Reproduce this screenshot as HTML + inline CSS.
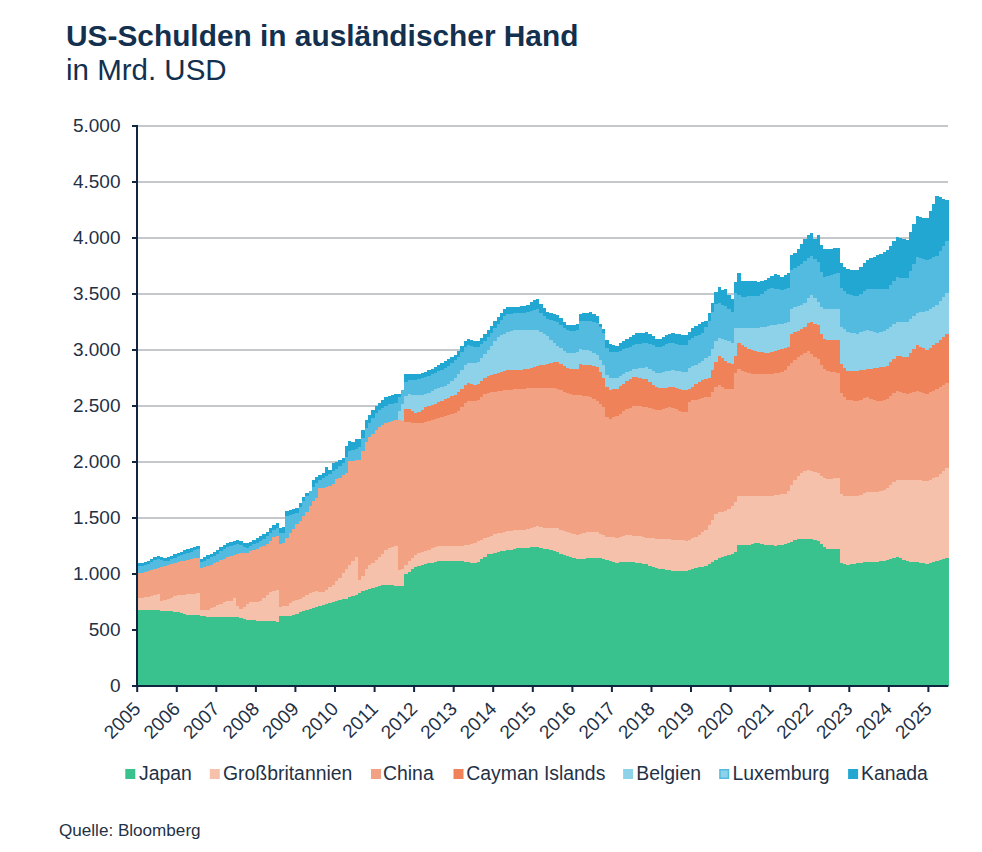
<!DOCTYPE html>
<html><head><meta charset="utf-8"><style>
html,body{margin:0;padding:0;background:#fff;}
body{width:982px;height:852px;overflow:hidden;position:relative;}
svg{position:absolute;left:0;top:0;}
text{font-family:"Liberation Sans",sans-serif;}
</style></head><body>
<svg width="982" height="852" viewBox="0 0 982 852">
<rect width="982" height="852" fill="#fff"/>
<text x="66" y="45.8" font-size="29.85" font-weight="bold" fill="#13304f">US-Schulden in ausländischer Hand</text>
<text x="66" y="80" font-size="29.5" fill="#13304f">in Mrd. USD</text>
<g><rect x="138" y="629.0" width="810" height="2" fill="#c4c7cb"/>
<rect x="138" y="573.0" width="810" height="2" fill="#c4c7cb"/>
<rect x="138" y="517.0" width="810" height="2" fill="#c4c7cb"/>
<rect x="138" y="461.0" width="810" height="2" fill="#c4c7cb"/>
<rect x="138" y="405.0" width="810" height="2" fill="#c4c7cb"/>
<rect x="138" y="349.0" width="810" height="2" fill="#c4c7cb"/>
<rect x="138" y="293.0" width="810" height="2" fill="#c4c7cb"/>
<rect x="138" y="237.0" width="810" height="2" fill="#c4c7cb"/>
<rect x="138" y="181.0" width="810" height="2" fill="#c4c7cb"/>
<rect x="138" y="125.0" width="810" height="2" fill="#c4c7cb"/></g>
<g shape-rendering="crispEdges">
<path fill="#22a7d3" d="M137.00,685.5L137.00,563.3L140.30,563.3L140.30,562.6L143.60,562.6L143.60,561.9L146.90,561.9L146.90,560.6L150.20,560.6L150.20,558.8L153.49,558.8L153.49,556.9L156.79,556.9L156.79,556.2L160.09,556.2L160.09,556.9L163.39,556.9L163.39,557.6L166.69,557.6L166.69,557.3L169.99,557.3L169.99,555.7L173.29,555.7L173.29,554.1L176.59,554.1L176.59,552.7L179.88,552.7L179.88,551.5L183.18,551.5L183.18,550.4L186.48,550.4L186.48,549.2L189.78,549.2L189.78,548.0L193.08,548.0L193.08,546.9L196.38,546.9L196.38,545.7L199.68,545.7L199.68,558.5L202.98,558.5L202.98,557.0L206.27,557.0L206.27,555.4L209.57,555.4L209.57,553.5L212.87,553.5L212.87,551.7L216.17,551.7L216.17,549.7L219.47,549.7L219.47,547.4L222.77,547.4L222.77,545.0L226.07,545.0L226.07,543.0L229.37,543.0L229.37,541.8L232.66,541.8L232.66,540.7L235.96,540.7L235.96,540.0L239.26,540.0L239.26,541.2L242.56,541.2L242.56,542.5L245.86,542.5L245.86,543.2L249.16,543.2L249.16,541.5L252.46,541.5L252.46,539.7L255.76,539.7L255.76,537.9L259.05,537.9L259.05,535.8L262.35,535.8L262.35,533.7L265.65,533.7L265.65,531.5L268.95,531.5L268.95,528.4L272.25,528.4L272.25,525.2L275.55,525.2L275.55,522.8L278.85,522.8L278.85,527.5L282.15,527.5L282.15,527.2L285.45,527.2L285.45,510.7L288.74,510.7L288.74,509.6L292.04,509.6L292.04,508.6L295.34,508.6L295.34,507.5L298.64,507.5L298.64,503.0L301.94,503.0L301.94,496.7L305.24,496.7L305.24,492.7L308.54,492.7L308.54,490.5L311.84,490.5L311.84,480.1L315.13,480.1L315.13,477.2L318.43,477.2L318.43,474.6L321.73,474.6L321.73,472.7L325.03,472.7L325.03,467.3L328.33,467.3L328.33,469.9L331.63,469.9L331.63,463.0L334.93,463.0L334.93,461.6L338.23,461.6L338.23,460.0L341.52,460.0L341.52,457.6L344.82,457.6L344.82,446.1L348.12,446.1L348.12,441.2L351.42,441.2L351.42,442.0L354.72,442.0L354.72,438.8L358.02,438.8L358.02,438.8L361.32,438.8L361.32,429.9L364.62,429.9L364.62,419.9L367.91,419.9L367.91,414.5L371.21,414.5L371.21,410.3L374.51,410.3L374.51,406.2L377.81,406.2L377.81,403.0L381.11,403.0L381.11,400.2L384.41,400.2L384.41,397.4L387.71,397.4L387.71,395.9L391.01,395.9L391.01,395.0L394.30,395.0L394.30,394.1L397.60,394.1L397.60,393.5L400.90,393.5L400.90,389.8L404.20,389.8L404.20,374.1L407.50,374.1L407.50,374.1L410.80,374.1L410.80,374.1L414.10,374.1L414.10,374.1L417.40,374.1L417.40,373.5L420.70,373.5L420.70,372.6L423.99,372.6L423.99,371.7L427.29,371.7L427.29,370.3L430.59,370.3L430.59,368.5L433.89,368.5L433.89,366.8L437.19,366.8L437.19,365.0L440.49,365.0L440.49,363.1L443.79,363.1L443.79,361.3L447.09,361.3L447.09,359.2L450.38,359.2L450.38,356.9L453.68,356.9L453.68,354.6L456.98,354.6L456.98,351.0L460.28,351.0L460.28,346.1L463.58,346.1L463.58,341.2L466.88,341.2L466.88,339.1L470.18,339.1L470.18,340.3L473.48,340.3L473.48,341.4L476.77,341.4L476.77,340.7L480.07,340.7L480.07,337.5L483.37,337.5L483.37,334.2L486.67,334.2L486.67,330.4L489.97,330.4L489.97,325.8L493.27,325.8L493.27,321.1L496.57,321.1L496.57,316.8L499.87,316.8L499.87,313.1L503.16,313.1L503.16,309.4L506.46,309.4L506.46,306.9L509.76,306.9L509.76,306.9L513.06,306.9L513.06,306.9L516.36,306.9L516.36,306.8L519.66,306.8L519.66,306.3L522.96,306.3L522.96,305.8L526.26,305.8L526.26,304.8L529.55,304.8L529.55,302.4L532.85,302.4L532.85,299.9L536.15,299.9L536.15,299.2L539.45,299.2L539.45,303.7L542.75,303.7L542.75,308.2L546.05,308.2L546.05,312.0L549.35,312.0L549.35,312.9L552.65,312.9L552.65,313.8L555.95,313.8L555.95,315.2L559.24,315.2L559.24,318.4L562.54,318.4L562.54,321.6L565.84,321.6L565.84,324.5L569.14,324.5L569.14,324.9L572.44,324.9L572.44,325.4L575.74,325.4L575.74,324.3L579.04,324.3L579.04,313.9L582.34,313.9L582.34,313.2L585.63,313.2L585.63,312.5L588.93,312.5L588.93,312.3L592.23,312.3L592.23,314.2L595.53,314.2L595.53,316.4L598.83,316.4L598.83,323.6L602.13,323.6L602.13,328.7L605.43,328.7L605.43,339.5L608.73,339.5L608.73,343.5L612.02,343.5L612.02,344.7L615.32,344.7L615.32,345.8L618.62,345.8L618.62,343.3L621.92,343.3L621.92,340.8L625.22,340.8L625.22,338.6L628.52,338.6L628.52,336.5L631.82,336.5L631.82,334.5L635.12,334.5L635.12,333.4L638.41,333.4L638.41,332.9L641.71,332.9L641.71,332.5L645.01,332.5L645.01,332.0L648.31,332.0L648.31,334.1L651.61,334.1L651.61,336.4L654.91,336.4L654.91,338.7L658.21,338.7L658.21,338.7L661.51,338.7L661.51,337.0L664.80,337.0L664.80,335.2L668.10,335.2L668.10,333.5L671.40,333.5L671.40,333.1L674.70,333.1L674.70,333.6L678.00,333.6L678.00,334.1L681.30,334.1L681.30,334.6L684.60,334.6L684.60,334.8L687.90,334.8L687.90,331.5L691.20,331.5L691.20,328.2L694.49,328.2L694.49,325.7L697.79,325.7L697.79,324.0L701.09,324.0L701.09,322.3L704.39,322.3L704.39,320.8L707.69,320.8L707.69,312.6L710.99,312.6L710.99,303.2L714.29,303.2L714.29,291.8L717.59,291.8L717.59,287.0L720.88,287.0L720.88,289.7L724.18,289.7L724.18,289.1L727.48,289.1L727.48,295.1L730.78,295.1L730.78,299.2L734.08,299.2L734.08,281.5L737.38,281.5L737.38,272.8L740.68,272.8L740.68,280.7L743.98,280.7L743.98,281.1L747.27,281.1L747.27,280.8L750.57,280.8L750.57,281.0L753.87,281.0L753.87,281.4L757.17,281.4L757.17,281.8L760.47,281.8L760.47,281.3L763.77,281.3L763.77,280.2L767.07,280.2L767.07,278.0L770.37,278.0L770.37,276.0L773.66,276.0L773.66,274.4L776.96,274.4L776.96,275.0L780.26,275.0L780.26,276.6L783.56,276.6L783.56,275.1L786.86,275.1L786.86,273.4L790.16,273.4L790.16,255.3L793.46,255.3L793.46,252.6L796.76,252.6L796.76,249.1L800.05,249.1L800.05,243.6L803.35,243.6L803.35,238.8L806.65,238.8L806.65,235.2L809.95,235.2L809.95,232.9L813.25,232.9L813.25,238.5L816.55,238.5L816.55,235.2L819.85,235.2L819.85,245.0L823.15,245.0L823.15,249.3L826.45,249.3L826.45,248.9L829.74,248.9L829.74,248.5L833.04,248.5L833.04,248.0L836.34,248.0L836.34,247.5L839.64,247.5L839.64,263.3L842.94,263.3L842.94,266.8L846.24,266.8L846.24,269.4L849.54,269.4L849.54,269.9L852.84,269.9L852.84,270.4L856.13,270.4L856.13,270.0L859.43,270.0L859.43,266.5L862.73,266.5L862.73,263.0L866.03,263.0L866.03,259.9L869.33,259.9L869.33,258.4L872.63,258.4L872.63,256.9L875.93,256.9L875.93,255.3L879.23,255.3L879.23,253.8L882.52,253.8L882.52,252.3L885.82,252.3L885.82,250.4L889.12,250.4L889.12,245.8L892.42,245.8L892.42,241.3L895.72,241.3L895.72,237.4L899.02,237.4L899.02,238.4L902.32,238.4L902.32,239.4L905.62,239.4L905.62,239.7L908.91,239.7L908.91,231.6L912.21,231.6L912.21,223.6L915.51,223.6L915.51,215.9L918.81,215.9L918.81,216.7L922.11,216.7L922.11,217.5L925.41,217.5L925.41,218.1L928.71,218.1L928.71,210.8L932.01,210.8L932.01,203.5L935.30,203.5L935.30,196.2L938.60,196.2L938.60,197.3L941.90,197.3L941.90,198.6L945.20,198.6L945.20,199.8L948.50,199.8L948.50,685.5Z"/>
<path fill="#52bbdf" d="M137.00,685.5L137.00,566.4L140.30,566.4L140.30,565.7L143.60,565.7L143.60,565.0L146.90,565.0L146.90,563.7L150.20,563.7L150.20,561.9L153.49,561.9L153.49,560.1L156.79,560.1L156.79,559.4L160.09,559.4L160.09,560.1L163.39,560.1L163.39,560.9L166.69,560.9L166.69,560.7L169.99,560.7L169.99,559.1L173.29,559.1L173.29,557.5L176.59,557.5L176.59,556.1L179.88,556.1L179.88,555.0L183.18,555.0L183.18,553.8L186.48,553.8L186.48,552.7L189.78,552.7L189.78,551.6L193.08,551.6L193.08,550.4L196.38,550.4L196.38,549.3L199.68,549.3L199.68,562.2L202.98,562.2L202.98,560.7L206.27,560.7L206.27,559.1L209.57,559.1L209.57,557.3L212.87,557.3L212.87,555.5L216.17,555.5L216.17,553.5L219.47,553.5L219.47,551.2L222.77,551.2L222.77,548.9L226.07,548.9L226.07,546.9L229.37,546.9L229.37,545.8L232.66,545.8L232.66,544.7L235.96,544.7L235.96,544.0L239.26,544.0L239.26,545.4L242.56,545.4L242.56,546.7L245.86,546.7L245.86,547.5L249.16,547.5L249.16,545.9L252.46,545.9L252.46,544.2L255.76,544.2L255.76,542.6L259.05,542.6L259.05,540.5L262.35,540.5L262.35,538.5L265.65,538.5L265.65,536.4L268.95,536.4L268.95,533.4L272.25,533.4L272.25,530.4L275.55,530.4L275.55,528.0L278.85,528.0L278.85,532.8L282.15,532.8L282.15,532.6L285.45,532.6L285.45,516.2L288.74,516.2L288.74,515.2L292.04,515.2L292.04,514.3L295.34,514.3L295.34,513.3L298.64,513.3L298.64,506.5L301.94,506.5L301.94,500.7L305.24,500.7L305.24,495.9L308.54,495.9L308.54,491.3L311.84,491.3L311.84,486.9L315.13,486.9L315.13,483.2L318.43,483.2L318.43,480.2L321.73,480.2L321.73,478.0L325.03,478.0L325.03,475.8L328.33,475.8L328.33,473.6L331.63,473.6L331.63,471.3L334.93,471.3L334.93,469.1L338.23,469.1L338.23,466.1L341.52,466.1L341.52,463.1L344.82,463.1L344.82,456.5L348.12,456.5L348.12,450.8L351.42,450.8L351.42,449.9L354.72,449.9L354.72,449.1L358.02,449.1L358.02,447.2L361.32,447.2L361.32,438.2L364.62,438.2L364.62,428.4L367.91,428.4L367.91,422.6L371.21,422.6L371.21,417.9L374.51,417.9L374.51,413.3L377.81,413.3L377.81,410.4L381.11,410.4L381.11,408.1L384.41,408.1L384.41,405.8L387.71,405.8L387.71,404.4L391.01,404.4L391.01,403.5L394.30,403.5L394.30,402.6L397.60,402.6L397.60,397.2L400.90,397.2L400.90,389.8L404.20,389.8L404.20,382.3L407.50,382.3L407.50,379.7L410.80,379.7L410.80,379.7L414.10,379.7L414.10,379.7L417.40,379.7L417.40,379.1L420.70,379.1L420.70,378.2L423.99,378.2L423.99,377.3L427.29,377.3L427.29,376.0L430.59,376.0L430.59,374.4L433.89,374.4L433.89,372.9L437.19,372.9L437.19,371.3L440.49,371.3L440.49,369.8L443.79,369.8L443.79,368.2L447.09,368.2L447.09,366.0L450.38,366.0L450.38,363.2L453.68,363.2L453.68,360.4L456.98,360.4L456.98,356.7L460.28,356.7L460.28,352.0L463.58,352.0L463.58,347.4L466.88,347.4L466.88,345.3L470.18,345.3L470.18,346.3L473.48,346.3L473.48,347.2L476.77,347.2L476.77,346.5L480.07,346.5L480.07,343.7L483.37,343.7L483.37,341.0L486.67,341.0L486.67,337.4L489.97,337.4L489.97,332.8L493.27,332.8L493.27,328.1L496.57,328.1L496.57,323.8L499.87,323.8L499.87,320.1L503.16,320.1L503.16,316.4L506.46,316.4L506.46,313.8L509.76,313.8L509.76,313.6L513.06,313.6L513.06,313.4L516.36,313.4L516.36,313.1L519.66,313.1L519.66,312.9L522.96,312.9L522.96,312.7L526.26,312.7L526.26,312.1L529.55,312.1L529.55,310.9L532.85,310.9L532.85,309.6L536.15,309.6L536.15,309.4L539.45,309.4L539.45,312.8L542.75,312.8L542.75,316.1L546.05,316.1L546.05,319.0L549.35,319.0L549.35,319.9L552.65,319.9L552.65,320.8L555.95,320.8L555.95,322.1L559.24,322.1L559.24,324.9L562.54,324.9L562.54,327.7L565.84,327.7L565.84,330.2L569.14,330.2L569.14,330.6L572.44,330.6L572.44,331.1L575.74,331.1L575.74,330.2L579.04,330.2L579.04,321.4L582.34,321.4L582.34,321.2L585.63,321.2L585.63,321.1L588.93,321.1L588.93,321.2L592.23,321.2L592.23,322.1L595.53,322.1L595.53,323.1L598.83,323.1L598.83,326.9L602.13,326.9L602.13,333.2L605.43,333.2L605.43,347.7L608.73,347.7L608.73,351.9L612.02,351.9L612.02,351.9L615.32,351.9L615.32,351.9L618.62,351.9L618.62,350.7L621.92,350.7L621.92,349.4L625.22,349.4L625.22,348.0L628.52,348.0L628.52,346.5L631.82,346.5L631.82,345.0L635.12,345.0L635.12,344.1L638.41,344.1L638.41,343.6L641.71,343.6L641.71,343.2L645.01,343.2L645.01,342.7L648.31,342.7L648.31,343.9L651.61,343.9L651.61,345.3L654.91,345.3L654.91,346.7L658.21,346.7L658.21,346.6L661.51,346.6L661.51,345.5L664.80,345.5L664.80,344.3L668.10,344.3L668.10,343.1L671.40,343.1L671.40,343.1L674.70,343.1L674.70,343.8L678.00,343.8L678.00,344.5L681.30,344.5L681.30,345.2L684.60,345.2L684.60,345.4L687.90,345.4L687.90,339.5L691.20,339.5L691.20,337.6L694.49,337.6L694.49,336.4L697.79,336.4L697.79,335.1L701.09,335.1L701.09,333.1L704.39,333.1L704.39,327.2L707.69,327.2L707.69,321.2L710.99,321.2L710.99,311.9L714.29,311.9L714.29,304.3L717.59,304.3L717.59,302.9L720.88,302.9L720.88,304.5L724.18,304.5L724.18,306.2L727.48,306.2L727.48,308.8L730.78,308.8L730.78,311.8L734.08,311.8L734.08,293.0L737.38,293.0L737.38,295.2L740.68,295.2L740.68,297.3L743.98,297.3L743.98,296.8L747.27,296.8L747.27,296.1L750.57,296.1L750.57,295.9L753.87,295.9L753.87,295.9L757.17,295.9L757.17,295.9L760.47,295.9L760.47,294.1L763.77,294.1L763.77,291.4L767.07,291.4L767.07,288.7L770.37,288.7L770.37,287.9L773.66,287.9L773.66,288.5L776.96,288.5L776.96,289.0L780.26,289.0L780.26,289.6L783.56,289.6L783.56,289.1L786.86,289.1L786.86,288.3L790.16,288.3L790.16,270.2L793.46,270.2L793.46,268.0L796.76,268.0L796.76,265.9L800.05,265.9L800.05,263.7L803.35,263.7L803.35,261.3L806.65,261.3L806.65,258.4L809.95,258.4L809.95,256.2L813.25,256.2L813.25,259.1L816.55,259.1L816.55,262.0L819.85,262.0L819.85,272.4L823.15,272.4L823.15,276.5L826.45,276.5L826.45,275.7L829.74,275.7L829.74,274.9L833.04,274.9L833.04,273.8L836.34,273.8L836.34,272.8L839.64,272.8L839.64,288.2L842.94,288.2L842.94,291.4L846.24,291.4L846.24,294.0L849.54,294.0L849.54,295.0L852.84,295.0L852.84,296.0L856.13,296.0L856.13,296.2L859.43,296.2L859.43,293.7L862.73,293.7L862.73,291.1L866.03,291.1L866.03,289.1L869.33,289.1L869.33,289.1L872.63,289.1L872.63,289.1L875.93,289.1L875.93,289.1L879.23,289.1L879.23,289.1L882.52,289.1L882.52,289.1L885.82,289.1L885.82,288.5L889.12,288.5L889.12,284.5L892.42,284.5L892.42,280.5L895.72,280.5L895.72,277.0L899.02,277.0L899.02,277.5L902.32,277.5L902.32,278.0L905.62,278.0L905.62,277.9L908.91,277.9L908.91,270.9L912.21,270.9L912.21,263.8L915.51,263.8L915.51,257.2L918.81,257.2L918.81,258.2L922.11,258.2L922.11,259.2L925.41,259.2L925.41,260.2L928.71,260.2L928.71,258.7L932.01,258.7L932.01,257.1L935.30,257.1L935.30,255.6L938.60,255.6L938.60,250.6L941.90,250.6L941.90,245.6L945.20,245.6L945.20,240.5L948.50,240.5L948.50,685.5Z"/>
<path fill="#8ed2e9" d="M137.00,685.5L137.00,573.2L140.30,573.2L140.30,572.5L143.60,572.5L143.60,571.8L146.90,571.8L146.90,571.0L150.20,571.0L150.20,570.0L153.49,570.0L153.49,569.1L156.79,569.1L156.79,568.2L160.09,568.2L160.09,567.3L163.39,567.3L163.39,566.3L166.69,566.3L166.69,565.3L169.99,565.3L169.99,564.2L173.29,564.2L173.29,563.0L176.59,563.0L176.59,562.0L179.88,562.0L179.88,561.3L183.18,561.3L183.18,560.6L186.48,560.6L186.48,559.9L189.78,559.9L189.78,559.1L193.08,559.1L193.08,558.4L196.38,558.4L196.38,557.7L199.68,557.7L199.68,568.2L202.98,568.2L202.98,567.2L206.27,567.2L206.27,566.1L209.57,566.1L209.57,564.7L212.87,564.7L212.87,563.3L216.17,563.3L216.17,561.9L219.47,561.9L219.47,560.2L222.77,560.2L222.77,558.6L226.07,558.6L226.07,557.0L229.37,557.0L229.37,555.8L232.66,555.8L232.66,554.5L235.96,554.5L235.96,553.5L239.26,553.5L239.26,553.3L242.56,553.3L242.56,553.1L245.86,553.1L245.86,552.8L249.16,552.8L249.16,551.4L252.46,551.4L252.46,549.9L255.76,549.9L255.76,548.5L259.05,548.5L259.05,547.1L262.35,547.1L262.35,545.8L265.65,545.8L265.65,544.2L268.95,544.2L268.95,540.7L272.25,540.7L272.25,537.3L275.55,537.3L275.55,536.2L278.85,536.2L278.85,544.3L282.15,544.3L282.15,543.3L285.45,543.3L285.45,537.9L288.74,537.9L288.74,533.2L292.04,533.2L292.04,528.6L295.34,528.6L295.34,524.0L298.64,524.0L298.64,520.5L301.94,520.5L301.94,516.1L305.24,516.1L305.24,511.5L308.54,511.5L308.54,506.4L311.84,506.4L311.84,501.0L315.13,501.0L315.13,497.9L318.43,497.9L318.43,488.4L321.73,488.4L321.73,487.5L325.03,487.5L325.03,486.5L328.33,486.5L328.33,485.6L331.63,485.6L331.63,483.8L334.93,483.8L334.93,479.2L338.23,479.2L338.23,477.6L341.52,477.6L341.52,475.3L344.82,475.3L344.82,473.0L348.12,473.0L348.12,461.2L351.42,461.2L351.42,460.8L354.72,460.8L354.72,460.4L358.02,460.4L358.02,459.5L361.32,459.5L361.32,451.3L364.62,451.3L364.62,442.3L367.91,442.3L367.91,437.4L371.21,437.4L371.21,433.7L374.51,433.7L374.51,429.9L377.81,429.9L377.81,427.4L381.11,427.4L381.11,425.4L384.41,425.4L384.41,423.3L387.71,423.3L387.71,421.9L391.01,421.9L391.01,420.7L394.30,420.7L394.30,419.6L397.60,419.6L397.60,411.2L400.90,411.2L400.90,403.8L404.20,403.8L404.20,396.4L407.50,396.4L407.50,394.1L410.80,394.1L410.80,394.6L414.10,394.6L414.10,395.0L417.40,395.0L417.40,394.9L420.70,394.9L420.70,394.5L423.99,394.5L423.99,394.0L427.29,394.0L427.29,392.8L430.59,392.8L430.59,391.0L433.89,391.0L433.89,389.2L437.19,389.2L437.19,387.9L440.49,387.9L440.49,387.1L443.79,387.1L443.79,386.2L447.09,386.2L447.09,384.1L450.38,384.1L450.38,380.8L453.68,380.8L453.68,377.6L456.98,377.6L456.98,373.8L460.28,373.8L460.28,369.6L463.58,369.6L463.58,365.4L466.88,365.4L466.88,363.2L470.18,363.2L470.18,363.2L473.48,363.2L473.48,363.2L476.77,363.2L476.77,361.6L480.07,361.6L480.07,357.9L483.37,357.9L483.37,354.2L486.67,354.2L486.67,350.1L489.97,350.1L489.97,345.5L493.27,345.5L493.27,340.8L496.57,340.8L496.57,337.2L499.87,337.2L499.87,335.4L503.16,335.4L503.16,333.5L506.46,333.5L506.46,332.0L509.76,332.0L509.76,331.0L513.06,331.0L513.06,330.1L516.36,330.1L516.36,329.5L519.66,329.5L519.66,329.7L522.96,329.7L522.96,329.9L526.26,329.9L526.26,330.1L529.55,330.1L529.55,329.9L532.85,329.9L532.85,329.8L536.15,329.8L536.15,330.2L539.45,330.2L539.45,332.2L542.75,332.2L542.75,334.1L546.05,334.1L546.05,336.4L549.35,336.4L549.35,339.7L552.65,339.7L552.65,342.9L555.95,342.9L555.95,346.0L559.24,346.0L559.24,348.3L562.54,348.3L562.54,350.6L565.84,350.6L565.84,352.6L569.14,352.6L569.14,352.6L572.44,352.6L572.44,352.6L575.74,352.6L575.74,352.1L579.04,352.1L579.04,349.0L582.34,349.0L582.34,349.7L585.63,349.7L585.63,350.4L588.93,350.4L588.93,351.3L592.23,351.3L592.23,353.2L595.53,353.2L595.53,355.2L598.83,355.2L598.83,359.8L602.13,359.8L602.13,365.2L605.43,365.2L605.43,375.1L608.73,375.1L608.73,377.9L612.02,377.9L612.02,377.9L615.32,377.9L615.32,377.9L618.62,377.9L618.62,376.0L621.92,376.0L621.92,374.1L625.22,374.1L625.22,372.4L628.52,372.4L628.52,370.9L631.82,370.9L631.82,369.4L635.12,369.4L635.12,368.5L638.41,368.5L638.41,368.1L641.71,368.1L641.71,367.7L645.01,367.7L645.01,367.2L648.31,367.2L648.31,368.8L651.61,368.8L651.61,370.7L654.91,370.7L654.91,372.5L658.21,372.5L658.21,372.9L661.51,372.9L661.51,372.1L664.80,372.1L664.80,371.3L668.10,371.3L668.10,370.5L671.40,370.5L671.40,370.4L674.70,370.4L674.70,370.8L678.00,370.8L678.00,371.1L681.30,371.1L681.30,371.5L684.60,371.5L684.60,371.5L687.90,371.5L687.90,368.2L691.20,368.2L691.20,366.3L694.49,366.3L694.49,364.6L697.79,364.6L697.79,362.9L701.09,362.9L701.09,361.1L704.39,361.1L704.39,358.4L707.69,358.4L707.69,355.8L710.99,355.8L710.99,348.7L714.29,348.7L714.29,340.8L717.59,340.8L717.59,337.7L720.88,337.7L720.88,338.8L724.18,338.8L724.18,339.9L727.48,339.9L727.48,341.3L730.78,341.3L730.78,342.7L734.08,342.7L734.08,328.0L737.38,328.0L737.38,328.0L740.68,328.0L740.68,328.0L743.98,328.0L743.98,328.0L747.27,328.0L747.27,328.0L750.57,328.0L750.57,328.0L753.87,328.0L753.87,327.9L757.17,327.9L757.17,327.8L760.47,327.8L760.47,327.3L763.77,327.3L763.77,326.6L767.07,326.6L767.07,325.9L770.37,325.9L770.37,325.3L773.66,325.3L773.66,324.7L776.96,324.7L776.96,324.2L780.26,324.2L780.26,323.6L783.56,323.6L783.56,323.0L786.86,323.0L786.86,322.3L790.16,322.3L790.16,308.5L793.46,308.5L793.46,307.4L796.76,307.4L796.76,306.3L800.05,306.3L800.05,305.2L803.35,305.2L803.35,302.8L806.65,302.8L806.65,298.1L809.95,298.1L809.95,294.5L813.25,294.5L813.25,298.2L816.55,298.2L816.55,301.9L819.85,301.9L819.85,306.7L823.15,306.7L823.15,308.7L826.45,308.7L826.45,308.8L829.74,308.8L829.74,308.9L833.04,308.9L833.04,308.9L836.34,308.9L836.34,309.0L839.64,309.0L839.64,327.0L842.94,327.0L842.94,329.4L846.24,329.4L846.24,331.5L849.54,331.5L849.54,332.5L852.84,332.5L852.84,333.4L856.13,333.4L856.13,333.8L859.43,333.8L859.43,332.4L862.73,332.4L862.73,330.9L866.03,330.9L866.03,329.9L869.33,329.9L869.33,330.9L872.63,330.9L872.63,331.9L875.93,331.9L875.93,332.5L879.23,332.5L879.23,331.5L882.52,331.5L882.52,330.5L885.82,330.5L885.82,329.3L889.12,329.3L889.12,326.8L892.42,326.8L892.42,324.3L895.72,324.3L895.72,322.0L899.02,322.0L899.02,322.0L902.32,322.0L902.32,322.0L905.62,322.0L905.62,321.8L908.91,321.8L908.91,318.8L912.21,318.8L912.21,315.8L915.51,315.8L915.51,312.9L918.81,312.9L918.81,312.4L922.11,312.4L922.11,311.9L925.41,311.9L925.41,311.4L928.71,311.4L928.71,309.4L932.01,309.4L932.01,307.3L935.30,307.3L935.30,305.3L938.60,305.3L938.60,301.3L941.90,301.3L941.90,297.2L945.20,297.2L945.20,293.2L948.50,293.2L948.50,685.5Z"/>
<path fill="#f0825a" d="M137.00,685.5L137.00,573.2L140.30,573.2L140.30,572.5L143.60,572.5L143.60,571.8L146.90,571.8L146.90,571.0L150.20,571.0L150.20,570.0L153.49,570.0L153.49,569.1L156.79,569.1L156.79,568.2L160.09,568.2L160.09,567.3L163.39,567.3L163.39,566.3L166.69,566.3L166.69,565.3L169.99,565.3L169.99,564.2L173.29,564.2L173.29,563.0L176.59,563.0L176.59,562.0L179.88,562.0L179.88,561.3L183.18,561.3L183.18,560.6L186.48,560.6L186.48,559.9L189.78,559.9L189.78,559.1L193.08,559.1L193.08,558.4L196.38,558.4L196.38,557.7L199.68,557.7L199.68,568.2L202.98,568.2L202.98,567.2L206.27,567.2L206.27,566.1L209.57,566.1L209.57,564.7L212.87,564.7L212.87,563.3L216.17,563.3L216.17,561.9L219.47,561.9L219.47,560.2L222.77,560.2L222.77,558.6L226.07,558.6L226.07,557.0L229.37,557.0L229.37,555.8L232.66,555.8L232.66,554.5L235.96,554.5L235.96,553.5L239.26,553.5L239.26,553.3L242.56,553.3L242.56,553.1L245.86,553.1L245.86,552.8L249.16,552.8L249.16,551.4L252.46,551.4L252.46,549.9L255.76,549.9L255.76,548.5L259.05,548.5L259.05,547.1L262.35,547.1L262.35,545.8L265.65,545.8L265.65,544.2L268.95,544.2L268.95,540.7L272.25,540.7L272.25,537.3L275.55,537.3L275.55,536.2L278.85,536.2L278.85,544.3L282.15,544.3L282.15,543.3L285.45,543.3L285.45,537.9L288.74,537.9L288.74,533.2L292.04,533.2L292.04,528.6L295.34,528.6L295.34,524.0L298.64,524.0L298.64,520.5L301.94,520.5L301.94,516.1L305.24,516.1L305.24,511.5L308.54,511.5L308.54,506.4L311.84,506.4L311.84,501.0L315.13,501.0L315.13,497.9L318.43,497.9L318.43,488.4L321.73,488.4L321.73,487.5L325.03,487.5L325.03,486.5L328.33,486.5L328.33,485.6L331.63,485.6L331.63,483.8L334.93,483.8L334.93,479.2L338.23,479.2L338.23,477.6L341.52,477.6L341.52,475.3L344.82,475.3L344.82,473.0L348.12,473.0L348.12,461.2L351.42,461.2L351.42,460.8L354.72,460.8L354.72,460.4L358.02,460.4L358.02,459.5L361.32,459.5L361.32,451.3L364.62,451.3L364.62,442.3L367.91,442.3L367.91,437.4L371.21,437.4L371.21,433.7L374.51,433.7L374.51,429.9L377.81,429.9L377.81,427.4L381.11,427.4L381.11,425.4L384.41,425.4L384.41,423.3L387.71,423.3L387.71,421.9L391.01,421.9L391.01,420.7L394.30,420.7L394.30,419.6L397.60,419.6L397.60,419.8L400.90,419.8L400.90,420.8L404.20,420.8L404.20,408.7L407.50,408.7L407.50,409.1L410.80,409.1L410.80,411.0L414.10,411.0L414.10,412.8L417.40,412.8L417.40,412.1L420.70,412.1L420.70,409.8L423.99,409.8L423.99,407.4L427.29,407.4L427.29,405.9L430.59,405.9L430.59,404.8L433.89,404.8L433.89,403.7L437.19,403.7L437.19,402.3L440.49,402.3L440.49,400.8L443.79,400.8L443.79,399.2L447.09,399.2L447.09,397.8L450.38,397.8L450.38,396.3L453.68,396.3L453.68,394.9L456.98,394.9L456.98,392.4L460.28,392.4L460.28,388.7L463.58,388.7L463.58,385.0L466.88,385.0L466.88,383.4L470.18,383.4L470.18,384.4L473.48,384.4L473.48,385.3L476.77,385.3L476.77,384.4L480.07,384.4L480.07,381.1L483.37,381.1L483.37,377.9L486.67,377.9L486.67,375.5L489.97,375.5L489.97,374.6L493.27,374.6L493.27,373.7L496.57,373.7L496.57,372.8L499.87,372.8L499.87,371.8L503.16,371.8L503.16,370.9L506.46,370.9L506.46,370.3L509.76,370.3L509.76,370.3L513.06,370.3L513.06,370.3L516.36,370.3L516.36,370.2L519.66,370.2L519.66,369.7L522.96,369.7L522.96,369.2L526.26,369.2L526.26,368.7L529.55,368.7L529.55,367.8L532.85,367.8L532.85,367.0L536.15,367.0L536.15,366.2L539.45,366.2L539.45,365.4L542.75,365.4L542.75,364.6L546.05,364.6L546.05,363.7L549.35,363.7L549.35,362.8L552.65,362.8L552.65,361.9L555.95,361.9L555.95,361.5L559.24,361.5L559.24,363.8L562.54,363.8L562.54,366.1L565.84,366.1L565.84,368.2L569.14,368.2L569.14,368.6L572.44,368.6L572.44,369.1L575.74,369.1L575.74,368.8L579.04,368.8L579.04,364.3L582.34,364.3L582.34,364.6L585.63,364.6L585.63,364.8L588.93,364.8L588.93,365.2L592.23,365.2L592.23,366.2L595.53,366.2L595.53,367.4L598.83,367.4L598.83,371.8L602.13,371.8L602.13,377.5L605.43,377.5L605.43,387.3L608.73,387.3L608.73,389.7L612.02,389.7L612.02,389.1L615.32,389.1L615.32,388.5L618.62,388.5L618.62,386.0L621.92,386.0L621.92,383.5L625.22,383.5L625.22,381.3L628.52,381.3L628.52,379.2L631.82,379.2L631.82,377.2L635.12,377.2L635.12,376.8L638.41,376.8L638.41,377.6L641.71,377.6L641.71,378.5L645.01,378.5L645.01,379.3L648.31,379.3L648.31,381.8L651.61,381.8L651.61,384.6L654.91,384.6L654.91,387.3L658.21,387.3L658.21,388.3L661.51,388.3L661.51,387.9L664.80,387.9L664.80,387.5L668.10,387.5L668.10,387.1L671.40,387.1L671.40,387.4L674.70,387.4L674.70,388.1L678.00,388.1L678.00,388.8L681.30,388.8L681.30,389.5L684.60,389.5L684.60,390.0L687.90,390.0L687.90,389.1L691.20,389.1L691.20,386.9L694.49,386.9L694.49,384.4L697.79,384.4L697.79,382.0L701.09,382.0L701.09,379.8L704.39,379.8L704.39,379.1L707.69,379.1L707.69,378.4L710.99,378.4L710.99,369.9L714.29,369.9L714.29,361.5L717.59,361.5L717.59,355.6L720.88,355.6L720.88,358.2L724.18,358.2L724.18,360.9L727.48,360.9L727.48,362.6L730.78,362.6L730.78,364.1L734.08,364.1L734.08,355.6L737.38,355.6L737.38,343.3L740.68,343.3L740.68,345.1L743.98,345.1L743.98,346.9L747.27,346.9L747.27,348.7L750.57,348.7L750.57,349.9L753.87,349.9L753.87,350.7L757.17,350.7L757.17,351.5L760.47,351.5L760.47,352.1L763.77,352.1L763.77,352.5L767.07,352.5L767.07,352.9L770.37,352.9L770.37,352.4L773.66,352.4L773.66,351.3L776.96,351.3L776.96,350.3L780.26,350.3L780.26,349.2L783.56,349.2L783.56,348.2L786.86,348.2L786.86,347.4L790.16,347.4L790.16,333.7L793.46,333.7L793.46,332.1L796.76,332.1L796.76,330.5L800.05,330.5L800.05,328.8L803.35,328.8L803.35,326.6L806.65,326.6L806.65,323.2L809.95,323.2L809.95,322.2L813.25,322.2L813.25,323.8L816.55,323.8L816.55,325.4L819.85,325.4L819.85,334.4L823.15,334.4L823.15,338.8L826.45,338.8L826.45,339.6L829.74,339.6L829.74,340.4L833.04,340.4L833.04,340.4L836.34,340.4L836.34,340.4L839.64,340.4L839.64,363.6L842.94,363.6L842.94,367.8L846.24,367.8L846.24,370.8L849.54,370.8L849.54,370.8L852.84,370.8L852.84,370.8L856.13,370.8L856.13,370.7L859.43,370.7L859.43,370.2L862.73,370.2L862.73,369.7L866.03,369.7L866.03,369.2L869.33,369.2L869.33,368.7L872.63,368.7L872.63,368.2L875.93,368.2L875.93,367.7L879.23,367.7L879.23,367.2L882.52,367.2L882.52,366.7L885.82,366.7L885.82,365.8L889.12,365.8L889.12,362.3L892.42,362.3L892.42,358.7L895.72,358.7L895.72,355.7L899.02,355.7L899.02,356.2L902.32,356.2L902.32,356.6L905.62,356.6L905.62,356.8L908.91,356.8L908.91,352.8L912.21,352.8L912.21,348.7L915.51,348.7L915.51,345.0L918.81,345.0L918.81,346.5L922.11,346.5L922.11,348.0L925.41,348.0L925.41,349.5L928.71,349.5L928.71,347.5L932.01,347.5L932.01,345.4L935.30,345.4L935.30,343.4L938.60,343.4L938.60,340.4L941.90,340.4L941.90,337.4L945.20,337.4L945.20,334.3L948.50,334.3L948.50,685.5Z"/>
<path fill="#f2a283" d="M137.00,685.5L137.00,573.2L140.30,573.2L140.30,572.5L143.60,572.5L143.60,571.8L146.90,571.8L146.90,571.0L150.20,571.0L150.20,570.0L153.49,570.0L153.49,569.1L156.79,569.1L156.79,568.2L160.09,568.2L160.09,567.3L163.39,567.3L163.39,566.3L166.69,566.3L166.69,565.3L169.99,565.3L169.99,564.2L173.29,564.2L173.29,563.0L176.59,563.0L176.59,562.0L179.88,562.0L179.88,561.3L183.18,561.3L183.18,560.6L186.48,560.6L186.48,559.9L189.78,559.9L189.78,559.1L193.08,559.1L193.08,558.4L196.38,558.4L196.38,557.7L199.68,557.7L199.68,568.2L202.98,568.2L202.98,567.2L206.27,567.2L206.27,566.1L209.57,566.1L209.57,564.7L212.87,564.7L212.87,563.3L216.17,563.3L216.17,561.9L219.47,561.9L219.47,560.2L222.77,560.2L222.77,558.6L226.07,558.6L226.07,557.0L229.37,557.0L229.37,555.8L232.66,555.8L232.66,554.5L235.96,554.5L235.96,553.5L239.26,553.5L239.26,553.3L242.56,553.3L242.56,553.1L245.86,553.1L245.86,552.8L249.16,552.8L249.16,551.4L252.46,551.4L252.46,549.9L255.76,549.9L255.76,548.5L259.05,548.5L259.05,547.1L262.35,547.1L262.35,545.8L265.65,545.8L265.65,544.2L268.95,544.2L268.95,540.7L272.25,540.7L272.25,537.3L275.55,537.3L275.55,536.2L278.85,536.2L278.85,544.3L282.15,544.3L282.15,543.3L285.45,543.3L285.45,537.9L288.74,537.9L288.74,533.2L292.04,533.2L292.04,528.6L295.34,528.6L295.34,524.0L298.64,524.0L298.64,520.5L301.94,520.5L301.94,516.1L305.24,516.1L305.24,511.5L308.54,511.5L308.54,506.4L311.84,506.4L311.84,501.0L315.13,501.0L315.13,497.9L318.43,497.9L318.43,488.4L321.73,488.4L321.73,487.5L325.03,487.5L325.03,486.5L328.33,486.5L328.33,485.6L331.63,485.6L331.63,483.8L334.93,483.8L334.93,479.2L338.23,479.2L338.23,477.6L341.52,477.6L341.52,475.3L344.82,475.3L344.82,473.0L348.12,473.0L348.12,461.2L351.42,461.2L351.42,460.8L354.72,460.8L354.72,460.4L358.02,460.4L358.02,459.5L361.32,459.5L361.32,451.3L364.62,451.3L364.62,442.3L367.91,442.3L367.91,437.4L371.21,437.4L371.21,433.7L374.51,433.7L374.51,429.9L377.81,429.9L377.81,427.4L381.11,427.4L381.11,425.4L384.41,425.4L384.41,423.3L387.71,423.3L387.71,421.9L391.01,421.9L391.01,420.7L394.30,420.7L394.30,419.6L397.60,419.6L397.60,419.8L400.90,419.8L400.90,420.8L404.20,420.8L404.20,421.7L407.50,421.7L407.50,422.3L410.80,422.3L410.80,422.8L414.10,422.8L414.10,423.2L417.40,423.2L417.40,423.1L420.70,423.1L420.70,422.7L423.99,422.7L423.99,422.2L427.29,422.2L427.29,421.3L430.59,421.3L430.59,420.2L433.89,420.2L433.89,419.1L437.19,419.1L437.19,418.0L440.49,418.0L440.49,416.9L443.79,416.9L443.79,415.7L447.09,415.7L447.09,414.7L450.38,414.7L450.38,413.8L453.68,413.8L453.68,412.9L456.98,412.9L456.98,410.6L460.28,410.6L460.28,406.8L463.58,406.8L463.58,403.1L466.88,403.1L466.88,401.1L470.18,401.1L470.18,401.1L473.48,401.1L473.48,401.1L476.77,401.1L476.77,399.9L480.07,399.9L480.07,397.1L483.37,397.1L483.37,394.4L486.67,394.4L486.67,392.5L489.97,392.5L489.97,392.1L493.27,392.1L493.27,391.6L496.57,391.6L496.57,391.1L499.87,391.1L499.87,390.7L503.16,390.7L503.16,390.2L506.46,390.2L506.46,389.8L509.76,389.8L509.76,389.6L513.06,389.6L513.06,389.4L516.36,389.4L516.36,389.1L519.66,389.1L519.66,388.9L522.96,388.9L522.96,388.7L526.26,388.7L526.26,388.4L529.55,388.4L529.55,388.2L532.85,388.2L532.85,387.9L536.15,387.9L536.15,387.7L539.45,387.7L539.45,387.9L542.75,387.9L542.75,388.1L546.05,388.1L546.05,388.3L549.35,388.3L549.35,388.3L552.65,388.3L552.65,388.3L555.95,388.3L555.95,388.6L559.24,388.6L559.24,390.2L562.54,390.2L562.54,391.8L565.84,391.8L565.84,393.3L569.14,393.3L569.14,394.0L572.44,394.0L572.44,394.8L575.74,394.8L575.74,395.3L579.04,395.3L579.04,395.0L582.34,395.0L582.34,395.7L585.63,395.7L585.63,396.4L588.93,396.4L588.93,397.3L592.23,397.3L592.23,399.2L595.53,399.2L595.53,401.1L598.83,401.1L598.83,403.5L602.13,403.5L602.13,406.9L605.43,406.9L605.43,416.5L608.73,416.5L608.73,418.5L612.02,418.5L612.02,417.4L615.32,417.4L615.32,416.3L618.62,416.3L618.62,413.8L621.92,413.8L621.92,411.3L625.22,411.3L625.22,409.3L628.52,409.3L628.52,407.8L631.82,407.8L631.82,406.3L635.12,406.3L635.12,405.8L638.41,405.8L638.41,406.2L641.71,406.2L641.71,406.6L645.01,406.6L645.01,407.1L648.31,407.1L648.31,407.9L651.61,407.9L651.61,408.9L654.91,408.9L654.91,409.8L658.21,409.8L658.21,409.8L661.51,409.8L661.51,409.0L664.80,409.0L664.80,408.2L668.10,408.2L668.10,407.4L671.40,407.4L671.40,407.9L674.70,407.9L674.70,409.3L678.00,409.3L678.00,410.6L681.30,410.6L681.30,412.0L684.60,412.0L684.60,412.4L687.90,412.4L687.90,402.4L691.20,402.4L691.20,400.4L694.49,400.4L694.49,399.6L697.79,399.6L697.79,398.9L701.09,398.9L701.09,398.2L704.39,398.2L704.39,397.4L707.69,397.4L707.69,396.7L710.99,396.7L710.99,392.1L714.29,392.1L714.29,386.9L717.59,386.9L717.59,385.3L720.88,385.3L720.88,386.9L724.18,386.9L724.18,388.6L727.48,388.6L727.48,389.0L730.78,389.0L730.78,389.0L734.08,389.0L734.08,373.0L737.38,373.0L737.38,369.3L740.68,369.3L740.68,370.6L743.98,370.6L743.98,372.0L747.27,372.0L747.27,373.4L750.57,373.4L750.57,373.8L753.87,373.8L753.87,373.7L757.17,373.7L757.17,373.7L760.47,373.7L760.47,373.8L763.77,373.8L763.77,374.0L767.07,374.0L767.07,374.1L770.37,374.1L770.37,373.9L773.66,373.9L773.66,373.3L776.96,373.3L776.96,372.8L780.26,372.8L780.26,372.2L783.56,372.2L783.56,369.6L786.86,369.6L786.86,366.3L790.16,366.3L790.16,363.0L793.46,363.0L793.46,359.7L796.76,359.7L796.76,356.8L800.05,356.8L800.05,354.8L803.35,354.8L803.35,352.8L806.65,352.8L806.65,351.2L809.95,351.2L809.95,353.9L813.25,353.9L813.25,356.5L816.55,356.5L816.55,359.1L819.85,359.1L819.85,365.3L823.15,365.3L823.15,368.9L826.45,368.9L826.45,370.5L829.74,370.5L829.74,372.1L833.04,372.1L833.04,372.3L836.34,372.3L836.34,372.5L839.64,372.5L839.64,393.4L842.94,393.4L842.94,397.1L846.24,397.1L846.24,399.9L849.54,399.9L849.54,400.4L852.84,400.4L852.84,400.9L856.13,400.9L856.13,400.9L859.43,400.9L859.43,399.5L862.73,399.5L862.73,398.0L866.03,398.0L866.03,397.1L869.33,397.1L869.33,398.6L872.63,398.6L872.63,400.1L875.93,400.1L875.93,401.2L879.23,401.2L879.23,400.7L882.52,400.7L882.52,400.2L885.82,400.2L885.82,399.4L889.12,399.4L889.12,396.4L892.42,396.4L892.42,393.4L895.72,393.4L895.72,390.8L899.02,390.8L899.02,391.8L902.32,391.8L902.32,392.8L905.62,392.8L905.62,393.6L908.91,393.6L908.91,392.6L912.21,392.6L912.21,391.6L915.51,391.6L915.51,390.7L918.81,390.7L918.81,391.7L922.11,391.7L922.11,392.7L925.41,392.7L925.41,393.7L928.71,393.7L928.71,392.2L932.01,392.2L932.01,390.6L935.30,390.6L935.30,389.1L938.60,389.1L938.60,387.1L941.90,387.1L941.90,385.1L945.20,385.1L945.20,383.1L948.50,383.1L948.50,685.5Z"/>
<path fill="#f6c1ab" d="M137.00,685.5L137.00,598.0L140.30,598.0L140.30,597.5L143.60,597.5L143.60,597.0L146.90,597.0L146.90,596.5L150.20,596.5L150.20,595.8L153.49,595.8L153.49,595.0L156.79,595.0L156.79,594.3L160.09,594.3L160.09,601.2L163.39,601.2L163.39,600.2L166.69,600.2L166.69,599.0L169.99,599.0L169.99,597.7L173.29,597.7L173.29,596.3L176.59,596.3L176.59,595.3L179.88,595.3L179.88,595.0L183.18,595.0L183.18,594.8L186.48,594.8L186.48,594.4L189.78,594.4L189.78,594.0L193.08,594.0L193.08,593.6L196.38,593.6L196.38,593.1L199.68,593.1L199.68,610.0L202.98,610.0L202.98,610.1L206.27,610.1L206.27,609.7L209.57,609.7L209.57,608.3L212.87,608.3L212.87,606.9L216.17,606.9L216.17,605.4L219.47,605.4L219.47,603.6L222.77,603.6L222.77,601.7L226.07,601.7L226.07,600.8L229.37,600.8L229.37,601.2L232.66,601.2L232.66,597.9L235.96,597.9L235.96,606.4L239.26,606.4L239.26,608.5L242.56,608.5L242.56,606.8L245.86,606.8L245.86,604.2L249.16,604.2L249.16,602.2L252.46,602.2L252.46,601.8L255.76,601.8L255.76,601.5L259.05,601.5L259.05,600.9L262.35,600.9L262.35,598.0L265.65,598.0L265.65,595.0L268.95,595.0L268.95,592.4L272.25,592.4L272.25,591.4L275.55,591.4L275.55,590.4L278.85,590.4L278.85,606.5L282.15,606.5L282.15,606.2L285.45,606.2L285.45,605.9L288.74,605.9L288.74,602.9L292.04,602.9L292.04,601.2L295.34,601.2L295.34,599.9L298.64,599.9L298.64,598.6L301.94,598.6L301.94,597.1L305.24,597.1L305.24,595.1L308.54,595.1L308.54,593.4L311.84,593.4L311.84,592.2L315.13,592.2L315.13,591.4L318.43,591.4L318.43,592.1L321.73,592.1L321.73,592.3L325.03,592.3L325.03,589.9L328.33,589.9L328.33,587.3L331.63,587.3L331.63,584.6L334.93,584.6L334.93,581.4L338.23,581.4L338.23,578.0L341.52,578.0L341.52,573.4L344.82,573.4L344.82,568.7L348.12,568.7L348.12,564.8L351.42,564.8L351.42,560.9L354.72,560.9L354.72,557.0L358.02,557.0L358.02,580.3L361.32,580.3L361.32,576.0L364.62,576.0L364.62,569.1L367.91,569.1L367.91,565.4L371.21,565.4L371.21,562.7L374.51,562.7L374.51,559.9L377.81,559.9L377.81,556.8L381.11,556.8L381.11,553.5L384.41,553.5L384.41,550.2L387.71,550.2L387.71,548.3L391.01,548.3L391.01,546.9L394.30,546.9L394.30,545.5L397.60,545.5L397.60,570.3L400.90,570.3L400.90,569.3L404.20,569.3L404.20,564.9L407.50,564.9L407.50,561.3L410.80,561.3L410.80,558.0L414.10,558.0L414.10,554.7L417.40,554.7L417.40,552.9L420.70,552.9L420.70,552.0L423.99,552.0L423.99,551.1L427.29,551.1L427.29,549.8L430.59,549.8L430.59,548.2L433.89,548.2L433.89,546.7L437.19,546.7L437.19,545.9L440.49,545.9L440.49,545.8L443.79,545.8L443.79,545.7L447.09,545.7L447.09,545.7L450.38,545.7L450.38,546.0L453.68,546.0L453.68,546.2L456.98,546.2L456.98,546.1L460.28,546.1L460.28,545.6L463.58,545.6L463.58,545.1L466.88,545.1L466.88,544.5L470.18,544.5L470.18,543.5L473.48,543.5L473.48,542.6L476.77,542.6L476.77,541.4L480.07,541.4L480.07,539.8L483.37,539.8L483.37,538.2L486.67,538.2L486.67,536.7L489.97,536.7L489.97,535.6L493.27,535.6L493.27,534.4L496.57,534.4L496.57,533.4L499.87,533.4L499.87,532.7L503.16,532.7L503.16,532.0L506.46,532.0L506.46,531.3L509.76,531.3L509.76,530.9L513.06,530.9L513.06,530.4L516.36,530.4L516.36,530.0L519.66,530.0L519.66,529.8L522.96,529.8L522.96,529.6L526.26,529.6L526.26,529.1L529.55,529.1L529.55,528.1L532.85,528.1L532.85,527.1L536.15,527.1L536.15,526.4L539.45,526.4L539.45,527.0L542.75,527.0L542.75,527.6L546.05,527.6L546.05,528.0L549.35,528.0L549.35,528.0L552.65,528.0L552.65,528.0L555.95,528.0L555.95,528.3L559.24,528.3L559.24,529.7L562.54,529.7L562.54,531.1L565.84,531.1L565.84,532.4L569.14,532.4L569.14,533.4L572.44,533.4L572.44,534.3L575.74,534.3L575.74,535.0L579.04,535.0L579.04,534.1L582.34,534.1L582.34,533.1L585.63,533.1L585.63,532.3L588.93,532.3L588.93,532.3L592.23,532.3L592.23,532.3L595.53,532.3L595.53,532.4L598.83,532.4L598.83,533.8L602.13,533.8L602.13,535.1L605.43,535.1L605.43,536.5L608.73,536.5L608.73,537.0L612.02,537.0L612.02,537.4L615.32,537.4L615.32,537.9L618.62,537.9L618.62,537.0L621.92,537.0L621.92,536.1L625.22,536.1L625.22,535.1L628.52,535.1L628.52,535.3L631.82,535.3L631.82,535.5L635.12,535.5L635.12,535.7L638.41,535.7L638.41,536.3L641.71,536.3L641.71,537.0L645.01,537.0L645.01,537.6L648.31,537.6L648.31,537.9L651.61,537.9L651.61,538.2L654.91,538.2L654.91,538.5L658.21,538.5L658.21,538.7L661.51,538.7L661.51,538.9L664.80,538.9L664.80,539.2L668.10,539.2L668.10,539.4L671.40,539.4L671.40,539.6L674.70,539.6L674.70,539.9L678.00,539.9L678.00,540.1L681.30,540.1L681.30,540.3L684.60,540.3L684.60,540.5L687.90,540.5L687.90,539.5L691.20,539.5L691.20,538.1L694.49,538.1L694.49,536.7L697.79,536.7L697.79,534.6L701.09,534.6L701.09,532.3L704.39,532.3L704.39,530.0L707.69,530.0L707.69,525.3L710.99,525.3L710.99,519.8L714.29,519.8L714.29,514.2L717.59,514.2L717.59,512.1L720.88,512.1L720.88,511.6L724.18,511.6L724.18,511.2L727.48,511.2L727.48,508.9L730.78,508.9L730.78,505.6L734.08,505.6L734.08,502.4L737.38,502.4L737.38,496.3L740.68,496.3L740.68,496.3L743.98,496.3L743.98,496.3L747.27,496.3L747.27,496.3L750.57,496.3L750.57,496.3L753.87,496.3L753.87,496.3L757.17,496.3L757.17,496.3L760.47,496.3L760.47,496.3L763.77,496.3L763.77,496.3L767.07,496.3L767.07,496.1L770.37,496.1L770.37,495.6L773.66,495.6L773.66,495.1L776.96,495.1L776.96,494.7L780.26,494.7L780.26,494.2L783.56,494.2L783.56,493.8L786.86,493.8L786.86,490.9L790.16,490.9L790.16,485.4L793.46,485.4L793.46,479.8L796.76,479.8L796.76,475.6L800.05,475.6L800.05,473.3L803.35,473.3L803.35,471.0L806.65,471.0L806.65,470.0L809.95,470.0L809.95,470.9L813.25,470.9L813.25,471.8L816.55,471.8L816.55,473.2L819.85,473.2L819.85,475.5L823.15,475.5L823.15,477.9L826.45,477.9L826.45,479.2L829.74,479.2L829.74,478.8L833.04,478.8L833.04,478.3L836.34,478.3L836.34,478.0L839.64,478.0L839.64,494.4L842.94,494.4L842.94,495.6L846.24,495.6L846.24,496.4L849.54,496.4L849.54,496.4L852.84,496.4L852.84,496.4L856.13,496.4L856.13,496.0L859.43,496.0L859.43,494.6L862.73,494.6L862.73,493.1L866.03,493.1L866.03,491.9L869.33,491.9L869.33,492.2L872.63,492.2L872.63,492.4L875.93,492.4L875.93,492.4L879.23,492.4L879.23,491.1L882.52,491.1L882.52,489.9L885.82,489.9L885.82,488.4L889.12,488.4L889.12,485.4L892.42,485.4L892.42,482.4L895.72,482.4L895.72,479.7L899.02,479.7L899.02,480.0L902.32,480.0L902.32,480.2L905.62,480.2L905.62,480.4L908.91,480.4L908.91,480.2L912.21,480.2L912.21,479.9L915.51,479.9L915.51,479.7L918.81,479.7L918.81,480.2L922.11,480.2L922.11,480.7L925.41,480.7L925.41,481.2L928.71,481.2L928.71,479.7L932.01,479.7L932.01,478.1L935.30,478.1L935.30,476.6L938.60,476.6L938.60,473.6L941.90,473.6L941.90,470.6L945.20,470.6L945.20,467.6L948.50,467.6L948.50,685.5Z"/>
<path fill="#3ac28e" d="M137.00,685.5L137.00,609.5L140.30,609.5L140.30,609.6L143.60,609.6L143.60,609.8L146.90,609.8L146.90,609.9L150.20,609.9L150.20,610.0L153.49,610.0L153.49,610.1L156.79,610.1L156.79,610.3L160.09,610.3L160.09,610.7L163.39,610.7L163.39,611.1L166.69,611.1L166.69,611.3L169.99,611.3L169.99,611.4L173.29,611.4L173.29,611.5L176.59,611.5L176.59,611.9L179.88,611.9L179.88,612.9L183.18,612.9L183.18,613.9L186.48,613.9L186.48,614.7L189.78,614.7L189.78,614.8L193.08,614.8L193.08,615.0L196.38,615.0L196.38,615.2L199.68,615.2L199.68,615.7L202.98,615.7L202.98,616.2L206.27,616.2L206.27,616.5L209.57,616.5L209.57,616.7L212.87,616.7L212.87,616.8L216.17,616.8L216.17,616.9L219.47,616.9L219.47,617.0L222.77,617.0L222.77,617.1L226.07,617.1L226.07,617.2L229.37,617.2L229.37,617.2L232.66,617.2L232.66,617.2L235.96,617.2L235.96,617.3L239.26,617.3L239.26,618.1L242.56,618.1L242.56,618.9L245.86,618.9L245.86,619.6L249.16,619.6L249.16,619.9L252.46,619.9L252.46,620.3L255.76,620.3L255.76,620.6L259.05,620.6L259.05,620.7L262.35,620.7L262.35,620.9L265.65,620.9L265.65,621.0L268.95,621.0L268.95,621.2L272.25,621.2L272.25,621.4L275.55,621.4L275.55,621.6L278.85,621.6L278.85,616.0L282.15,616.0L282.15,615.9L285.45,615.9L285.45,615.9L288.74,615.9L288.74,615.8L292.04,615.8L292.04,614.8L295.34,614.8L295.34,613.5L298.64,613.5L298.64,612.3L301.94,612.3L301.94,611.2L305.24,611.2L305.24,610.0L308.54,610.0L308.54,609.0L311.84,609.0L311.84,607.9L315.13,607.9L315.13,606.9L318.43,606.9L318.43,605.8L321.73,605.8L321.73,604.8L325.03,604.8L325.03,603.8L328.33,603.8L328.33,602.7L331.63,602.7L331.63,601.7L334.93,601.7L334.93,600.6L338.23,600.6L338.23,600.0L341.52,600.0L341.52,599.3L344.82,599.3L344.82,598.7L348.12,598.7L348.12,597.4L351.42,597.4L351.42,596.1L354.72,596.1L354.72,594.7L358.02,594.7L358.02,593.1L361.32,593.1L361.32,591.4L364.62,591.4L364.62,589.8L367.91,589.8L367.91,588.7L371.21,588.7L371.21,587.8L374.51,587.8L374.51,586.8L377.81,586.8L377.81,586.1L381.11,586.1L381.11,585.4L384.41,585.4L384.41,584.7L387.71,584.7L387.71,584.8L391.01,584.8L391.01,585.3L394.30,585.3L394.30,585.8L397.60,585.8L397.60,585.9L400.90,585.9L400.90,586.0L404.20,586.0L404.20,573.7L407.50,573.7L407.50,571.7L410.80,571.7L410.80,569.4L414.10,569.4L414.10,567.1L417.40,567.1L417.40,565.6L420.70,565.6L420.70,564.7L423.99,564.7L423.99,563.8L427.29,563.8L427.29,563.1L430.59,563.1L430.59,562.7L433.89,562.7L433.89,562.2L437.19,562.2L437.19,561.0L440.49,561.0L440.49,560.7L443.79,560.7L443.79,560.5L447.09,560.5L447.09,560.5L450.38,560.5L450.38,560.8L453.68,560.8L453.68,561.0L456.98,561.0L456.98,561.2L460.28,561.2L460.28,561.4L463.58,561.4L463.58,561.7L466.88,561.7L466.88,562.0L470.18,562.0L470.18,562.5L473.48,562.5L473.48,562.9L476.77,562.9L476.77,562.0L480.07,562.0L480.07,559.2L483.37,559.2L483.37,556.5L486.67,556.5L486.67,554.4L489.97,554.4L489.97,553.5L493.27,553.5L493.27,552.6L496.57,552.6L496.57,551.8L499.87,551.8L499.87,551.4L503.16,551.4L503.16,550.9L506.46,550.9L506.46,550.4L509.76,550.4L509.76,549.7L513.06,549.7L513.06,549.0L516.36,549.0L516.36,548.4L519.66,548.4L519.66,548.2L522.96,548.2L522.96,547.9L526.26,547.9L526.26,547.6L529.55,547.6L529.55,547.4L532.85,547.4L532.85,547.2L536.15,547.2L536.15,547.2L539.45,547.2L539.45,547.9L542.75,547.9L542.75,548.6L546.05,548.6L546.05,549.4L549.35,549.4L549.35,550.3L552.65,550.3L552.65,551.2L555.95,551.2L555.95,552.2L559.24,552.2L559.24,553.6L562.54,553.6L562.54,555.0L565.84,555.0L565.84,556.3L569.14,556.3L569.14,557.3L572.44,557.3L572.44,558.2L575.74,558.2L575.74,559.0L579.04,559.0L579.04,558.7L582.34,558.7L582.34,558.5L585.63,558.5L585.63,558.3L588.93,558.3L588.93,558.0L592.23,558.0L592.23,557.8L595.53,557.8L595.53,557.6L598.83,557.6L598.83,558.3L602.13,558.3L602.13,559.0L605.43,559.0L605.43,559.7L608.73,559.7L608.73,560.6L612.02,560.6L612.02,561.6L615.32,561.6L615.32,562.5L618.62,562.5L618.62,562.3L621.92,562.3L621.92,562.0L625.22,562.0L625.22,561.8L628.52,561.8L628.52,562.0L631.82,562.0L631.82,562.3L635.12,562.3L635.12,562.5L638.41,562.5L638.41,563.1L641.71,563.1L641.71,563.8L645.01,563.8L645.01,564.4L648.31,564.4L648.31,565.5L651.61,565.5L651.61,566.7L654.91,566.7L654.91,567.8L658.21,567.8L658.21,568.6L661.51,568.6L661.51,569.3L664.80,569.3L664.80,570.0L668.10,570.0L668.10,570.3L671.40,570.3L671.40,570.5L674.70,570.5L674.70,570.8L678.00,570.8L678.00,571.0L681.30,571.0L681.30,571.2L684.60,571.2L684.60,571.4L687.90,571.4L687.90,570.4L691.20,570.4L691.20,569.0L694.49,569.0L694.49,567.7L697.79,567.7L697.79,567.0L701.09,567.0L701.09,566.5L704.39,566.5L704.39,566.0L707.69,566.0L707.69,564.3L710.99,564.3L710.99,562.0L714.29,562.0L714.29,559.6L717.59,559.6L717.59,558.3L720.88,558.3L720.88,557.4L724.18,557.4L724.18,556.4L727.48,556.4L727.48,555.2L730.78,555.2L730.78,553.8L734.08,553.8L734.08,552.3L737.38,552.3L737.38,544.5L740.68,544.5L740.68,544.9L743.98,544.9L743.98,545.4L747.27,545.4L747.27,545.1L750.57,545.1L750.57,544.1L753.87,544.1L753.87,543.2L757.17,543.2L757.17,543.2L760.47,543.2L760.47,543.9L763.77,543.9L763.77,544.6L767.07,544.6L767.07,545.0L770.37,545.0L770.37,545.3L773.66,545.3L773.66,545.5L776.96,545.5L776.96,545.3L780.26,545.3L780.26,544.6L783.56,544.6L783.56,543.9L786.86,543.9L786.86,542.9L790.16,542.9L790.16,541.5L793.46,541.5L793.46,540.1L796.76,540.1L796.76,539.2L800.05,539.2L800.05,539.0L803.35,539.0L803.35,538.7L806.65,538.7L806.65,538.8L809.95,538.8L809.95,539.2L813.25,539.2L813.25,539.7L816.55,539.7L816.55,541.0L819.85,541.0L819.85,543.8L823.15,543.8L823.15,546.6L826.45,546.6L826.45,548.5L829.74,548.5L829.74,548.5L833.04,548.5L833.04,548.5L836.34,548.5L836.34,548.7L839.64,548.7L839.64,563.4L842.94,563.4L842.94,564.4L846.24,564.4L846.24,565.0L849.54,565.0L849.54,564.4L852.84,564.4L852.84,563.9L856.13,563.9L856.13,563.4L859.43,563.4L859.43,562.9L862.73,562.9L862.73,562.4L866.03,562.4L866.03,562.0L869.33,562.0L869.33,562.0L872.63,562.0L872.63,562.0L875.93,562.0L875.93,561.9L879.23,561.9L879.23,561.4L882.52,561.4L882.52,560.9L885.82,560.9L885.82,560.3L889.12,560.3L889.12,559.1L892.42,559.1L892.42,557.8L895.72,557.8L895.72,556.9L899.02,556.9L899.02,558.4L902.32,558.4L902.32,559.8L905.62,559.8L905.62,561.2L908.91,561.2L908.91,561.5L912.21,561.5L912.21,561.7L915.51,561.7L915.51,562.0L918.81,562.0L918.81,562.5L922.11,562.5L922.11,563.0L925.41,563.0L925.41,563.5L928.71,563.5L928.71,562.5L932.01,562.5L932.01,561.5L935.30,561.5L935.30,560.5L938.60,560.5L938.60,559.8L941.90,559.8L941.90,559.0L945.20,559.0L945.20,558.2L948.50,558.2L948.50,685.5Z"/>
</g>
<rect x="136" y="125" width="2" height="562" fill="#10253f"/>
<rect x="136" y="685" width="812.3" height="2" fill="#10253f"/>
<g font-size="19" fill="#1f3146">
<text x="120.5" y="692.0" text-anchor="end">0</text>
<rect x="132" y="685.0" width="5" height="2" fill="#10253f"/>
<text x="120.5" y="636.0" text-anchor="end">500</text>
<rect x="132" y="629.0" width="5" height="2" fill="#10253f"/>
<text x="120.5" y="580.0" text-anchor="end">1.000</text>
<rect x="132" y="573.0" width="5" height="2" fill="#10253f"/>
<text x="120.5" y="524.0" text-anchor="end">1.500</text>
<rect x="132" y="517.0" width="5" height="2" fill="#10253f"/>
<text x="120.5" y="468.0" text-anchor="end">2.000</text>
<rect x="132" y="461.0" width="5" height="2" fill="#10253f"/>
<text x="120.5" y="412.0" text-anchor="end">2.500</text>
<rect x="132" y="405.0" width="5" height="2" fill="#10253f"/>
<text x="120.5" y="356.0" text-anchor="end">3.000</text>
<rect x="132" y="349.0" width="5" height="2" fill="#10253f"/>
<text x="120.5" y="300.0" text-anchor="end">3.500</text>
<rect x="132" y="293.0" width="5" height="2" fill="#10253f"/>
<text x="120.5" y="244.0" text-anchor="end">4.000</text>
<rect x="132" y="237.0" width="5" height="2" fill="#10253f"/>
<text x="120.5" y="188.0" text-anchor="end">4.500</text>
<rect x="132" y="181.0" width="5" height="2" fill="#10253f"/>
<text x="120.5" y="132.0" text-anchor="end">5.000</text>
<rect x="132" y="125.0" width="5" height="2" fill="#10253f"/>
<rect x="136.2" y="685" width="2" height="7" fill="#10253f"/>
<text transform="translate(141.7,710) rotate(-45)" text-anchor="end">2005</text>
<rect x="175.8" y="685" width="2" height="7" fill="#10253f"/>
<text transform="translate(181.3,710) rotate(-45)" text-anchor="end">2006</text>
<rect x="215.3" y="685" width="2" height="7" fill="#10253f"/>
<text transform="translate(220.8,710) rotate(-45)" text-anchor="end">2007</text>
<rect x="254.9" y="685" width="2" height="7" fill="#10253f"/>
<text transform="translate(260.4,710) rotate(-45)" text-anchor="end">2008</text>
<rect x="294.4" y="685" width="2" height="7" fill="#10253f"/>
<text transform="translate(299.9,710) rotate(-45)" text-anchor="end">2009</text>
<rect x="334.0" y="685" width="2" height="7" fill="#10253f"/>
<text transform="translate(339.5,710) rotate(-45)" text-anchor="end">2010</text>
<rect x="373.6" y="685" width="2" height="7" fill="#10253f"/>
<text transform="translate(379.1,710) rotate(-45)" text-anchor="end">2011</text>
<rect x="413.1" y="685" width="2" height="7" fill="#10253f"/>
<text transform="translate(418.6,710) rotate(-45)" text-anchor="end">2012</text>
<rect x="452.7" y="685" width="2" height="7" fill="#10253f"/>
<text transform="translate(458.2,710) rotate(-45)" text-anchor="end">2013</text>
<rect x="492.2" y="685" width="2" height="7" fill="#10253f"/>
<text transform="translate(497.7,710) rotate(-45)" text-anchor="end">2014</text>
<rect x="531.8" y="685" width="2" height="7" fill="#10253f"/>
<text transform="translate(537.3,710) rotate(-45)" text-anchor="end">2015</text>
<rect x="571.4" y="685" width="2" height="7" fill="#10253f"/>
<text transform="translate(576.9,710) rotate(-45)" text-anchor="end">2016</text>
<rect x="610.9" y="685" width="2" height="7" fill="#10253f"/>
<text transform="translate(616.4,710) rotate(-45)" text-anchor="end">2017</text>
<rect x="650.5" y="685" width="2" height="7" fill="#10253f"/>
<text transform="translate(656.0,710) rotate(-45)" text-anchor="end">2018</text>
<rect x="690.0" y="685" width="2" height="7" fill="#10253f"/>
<text transform="translate(695.5,710) rotate(-45)" text-anchor="end">2019</text>
<rect x="729.6" y="685" width="2" height="7" fill="#10253f"/>
<text transform="translate(735.1,710) rotate(-45)" text-anchor="end">2020</text>
<rect x="769.2" y="685" width="2" height="7" fill="#10253f"/>
<text transform="translate(774.7,710) rotate(-45)" text-anchor="end">2021</text>
<rect x="808.7" y="685" width="2" height="7" fill="#10253f"/>
<text transform="translate(814.2,710) rotate(-45)" text-anchor="end">2022</text>
<rect x="848.3" y="685" width="2" height="7" fill="#10253f"/>
<text transform="translate(853.8,710) rotate(-45)" text-anchor="end">2023</text>
<rect x="887.8" y="685" width="2" height="7" fill="#10253f"/>
<text transform="translate(893.3,710) rotate(-45)" text-anchor="end">2024</text>
<rect x="927.4" y="685" width="2" height="7" fill="#10253f"/>
<text transform="translate(932.9,710) rotate(-45)" text-anchor="end">2025</text>
<rect x="125.3" y="769" width="10" height="10" fill="#3ac28e"/>
<text x="139.0" y="779.5" font-size="19.4">Japan</text>
<rect x="209.8" y="769" width="10" height="10" fill="#f6c1ab"/>
<text x="223.0" y="779.5" font-size="19.4">Großbritannien</text>
<rect x="371.0" y="769" width="10" height="10" fill="#f2a283"/>
<text x="383.0" y="779.5" font-size="19.4">China</text>
<rect x="453.5" y="769" width="10" height="10" fill="#f0825a"/>
<text x="466.3" y="779.5" font-size="19.4">Cayman Islands</text>
<rect x="623.1" y="769" width="10" height="10" fill="#8ed2e9"/>
<text x="636.3" y="779.5" font-size="19.4">Belgien</text>
<rect x="719.95" y="769.75" width="8.5" height="8.5" fill="#8ed2e9" stroke="#52bbdf" stroke-width="1.5"/>
<text x="732.5" y="779.5" font-size="19.4">Luxemburg</text>
<rect x="848.1" y="769" width="10" height="10" fill="#22a7d3"/>
<text x="861.0" y="779.5" font-size="19.4">Kanada</text>
</g>
<text x="59" y="836" font-size="17.1" fill="#1f3146">Quelle: Bloomberg</text>
</svg>
</body></html>
